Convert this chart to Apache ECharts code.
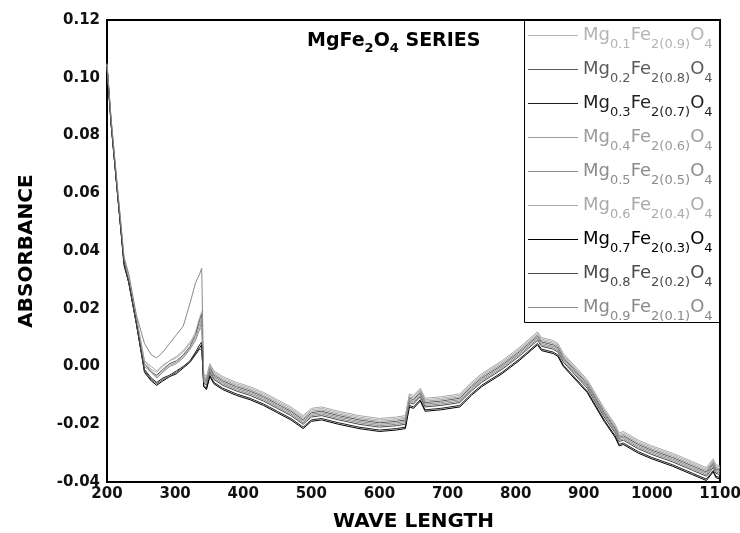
<!DOCTYPE html>
<html>
<head>
<meta charset="utf-8">
<title>MgFe2O4 series absorbance</title>
<script src="https://cdn.jsdelivr.net/npm/echarts@6/dist/echarts.min.js"></script>
<style>
  html, body { margin: 0; padding: 0; background: #fff; }
  #chart { width: 740px; height: 533px; }
</style>
</head>
<body>
<div id="chart"></div>
<script>
(function () {
  'use strict';

  /* ---------- data ---------- */
  const wavelength = [200, 206, 215, 225, 232, 243, 255, 265, 273, 282, 292, 302, 312, 322, 330, 336, 339,
    342, 346, 351, 357, 370, 390, 410, 430, 450, 470, 488, 500, 515, 540, 570, 600, 625, 638,
    644, 650, 660, 667, 690, 718, 735, 750, 780, 805, 832, 838, 855, 862, 870,
    905, 930, 946, 952, 958, 980, 1000, 1030, 1060, 1080, 1090, 1094, 1100];

  const mg01 = [0.1045, 0.085, 0.062, 0.037, 0.031, 0.017, 0.002, -0.001, -0.002, 0.000, 0.002, 0.003, 0.005, 0.008, 0.012, 0.017, 0.019,
    -0.003, -0.004, 0.0005, -0.002, -0.004, -0.006, -0.0075, -0.0095, -0.012, -0.0145, -0.0175, -0.015, -0.0145, -0.016, -0.0175, -0.0185, -0.018, -0.0175,
    -0.010, -0.0105, -0.008, -0.0115, -0.011, -0.010, -0.006, -0.003, 0.0015, 0.006, 0.0115, 0.0095, 0.0085, 0.0075, 0.004,
    -0.005, -0.015, -0.0205, -0.0235, -0.023, -0.026, -0.028, -0.0305, -0.0335, -0.0355, -0.0325, -0.0345, -0.035];
  const mg02 = [0.104, 0.085, 0.061, 0.036, 0.030, 0.016, 0.001, -0.002, -0.003, -0.001, 0.001, 0.002, 0.004, 0.007, 0.011, 0.016, 0.018,
    -0.004, -0.005, -0.0005, -0.003, -0.005, -0.007, -0.0085, -0.0105, -0.013, -0.0155, -0.0185, -0.016, -0.0155, -0.017, -0.0185, -0.0195, -0.019, -0.0185,
    -0.011, -0.0115, -0.009, -0.0125, -0.012, -0.011, -0.007, -0.004, 0.0005, 0.005, 0.0105, 0.0085, 0.0075, 0.0065, 0.003,
    -0.006, -0.016, -0.0215, -0.0245, -0.024, -0.027, -0.029, -0.0315, -0.0345, -0.0365, -0.0335, -0.0355, -0.036];
  const mg03 = [0.104, 0.084, 0.061, 0.036, 0.029, 0.015, -0.001, -0.004, -0.0055, -0.004, -0.003, -0.0015, 0.000, 0.002, 0.005, 0.0075, 0.0085,
    -0.0065, -0.0075, -0.003, -0.0055, -0.0075, -0.0095, -0.011, -0.013, -0.0155, -0.018, -0.021, -0.0185, -0.018, -0.0195, -0.021, -0.022, -0.0215, -0.021,
    -0.0135, -0.014, -0.0115, -0.015, -0.0145, -0.0135, -0.0095, -0.0065, -0.002, 0.0025, 0.008, 0.006, 0.005, 0.004, 0.0005,
    -0.0085, -0.0185, -0.024, -0.027, -0.0265, -0.0295, -0.0315, -0.034, -0.037, -0.039, -0.036, -0.038, -0.0385];
  const mg04 = [0.1045, 0.085, 0.062, 0.037, 0.030, 0.016, 0.001, -0.0015, -0.0035, -0.0015, 0.0005, 0.0015, 0.0035, 0.0065, 0.010, 0.0145, 0.017,
    -0.0035, -0.0045, 0.000, -0.0025, -0.0045, -0.0065, -0.008, -0.010, -0.0125, -0.015, -0.018, -0.0155, -0.015, -0.0165, -0.018, -0.019, -0.0185, -0.018,
    -0.0105, -0.011, -0.0085, -0.012, -0.0115, -0.0105, -0.0065, -0.0035, 0.001, 0.0055, 0.011, 0.009, 0.008, 0.007, 0.0035,
    -0.0055, -0.0155, -0.021, -0.024, -0.0235, -0.0265, -0.0285, -0.031, -0.034, -0.036, -0.033, -0.035, -0.0355];
  const mg05 = [0.104, 0.085, 0.062, 0.036, 0.030, 0.016, 0.000, -0.002, -0.004, -0.002, 0.000, 0.001, 0.003, 0.006, 0.009, 0.013, 0.0155,
    -0.0045, -0.0055, -0.001, -0.0035, -0.0055, -0.0075, -0.009, -0.011, -0.0135, -0.016, -0.019, -0.0165, -0.016, -0.0175, -0.019, -0.020, -0.0195, -0.019,
    -0.0115, -0.012, -0.0095, -0.013, -0.0125, -0.0115, -0.0075, -0.0045, 0.000, 0.0045, 0.010, 0.008, 0.007, 0.006, 0.0025,
    -0.0065, -0.0165, -0.022, -0.025, -0.0245, -0.0275, -0.0295, -0.032, -0.035, -0.037, -0.034, -0.036, -0.0365];
  const mg06 = [0.1045, 0.0855, 0.0625, 0.0375, 0.031, 0.0175, 0.002, 0.000, -0.0015, 0.0005, 0.002, 0.0035, 0.0055, 0.0085, 0.011, 0.0125, 0.014,
    -0.0025, -0.0035, 0.001, -0.0015, -0.0035, -0.0055, -0.007, -0.009, -0.0115, -0.014, -0.017, -0.0145, -0.014, -0.0155, -0.017, -0.018, -0.0175, -0.017,
    -0.0095, -0.010, -0.0075, -0.011, -0.0105, -0.0095, -0.0055, -0.0025, 0.002, 0.0065, 0.012, 0.010, 0.009, 0.008, 0.0045,
    -0.0045, -0.0145, -0.020, -0.023, -0.0225, -0.0255, -0.0275, -0.030, -0.033, -0.035, -0.032, -0.034, -0.0345];
  const mg07 = [0.104, 0.084, 0.061, 0.035, 0.029, 0.015, -0.002, -0.005, -0.0065, -0.005, -0.0035, -0.0025, -0.0005, 0.0015, 0.0045, 0.0065, 0.0075,
    -0.007, -0.008, -0.0035, -0.006, -0.008, -0.010, -0.0115, -0.0135, -0.016, -0.0185, -0.0215, -0.019, -0.0185, -0.020, -0.0215, -0.0225, -0.022, -0.0215,
    -0.014, -0.0145, -0.012, -0.0155, -0.015, -0.014, -0.010, -0.007, -0.0025, 0.002, 0.0075, 0.0055, 0.0045, 0.0035, 0.000,
    -0.009, -0.019, -0.0245, -0.0275, -0.027, -0.030, -0.032, -0.0345, -0.0375, -0.0395, -0.0365, -0.0385, -0.039];
  const mg08 = [0.104, 0.084, 0.061, 0.036, 0.029, 0.015, -0.0015, -0.0045, -0.006, -0.0045, -0.0035, -0.002, 0.000, 0.0015, 0.004, 0.006, 0.006,
    -0.0055, -0.0065, -0.002, -0.0045, -0.0065, -0.0085, -0.010, -0.012, -0.0145, -0.017, -0.020, -0.0175, -0.017, -0.0185, -0.020, -0.021, -0.0205, -0.020,
    -0.0125, -0.013, -0.0105, -0.014, -0.0135, -0.0125, -0.0085, -0.0055, -0.001, 0.0035, 0.009, 0.007, 0.006, 0.005, 0.0015,
    -0.0075, -0.0175, -0.023, -0.026, -0.0255, -0.0285, -0.0305, -0.033, -0.036, -0.038, -0.035, -0.037, -0.0375];
  const mg09 = [0.105, 0.086, 0.063, 0.038, 0.032, 0.018, 0.008, 0.004, 0.003, 0.005, 0.008, 0.011, 0.014, 0.022, 0.029, 0.032, 0.034,
    -0.005, -0.006, -0.0015, -0.004, -0.006, -0.008, -0.0095, -0.0115, -0.014, -0.0165, -0.0195, -0.017, -0.0165, -0.018, -0.0195, -0.0205, -0.020, -0.0195,
    -0.012, -0.0125, -0.010, -0.0135, -0.013, -0.012, -0.008, -0.005, -0.0005, 0.004, 0.0095, 0.0075, 0.0065, 0.0055, 0.002,
    -0.007, -0.017, -0.0225, -0.0255, -0.025, -0.028, -0.030, -0.0325, -0.0355, -0.0375, -0.0345, -0.0365, -0.037];

  const mgPart = ['0.1', '0.2', '0.3', '0.4', '0.5', '0.6', '0.7', '0.8', '0.9'];
  const fePart = ['2(0.9)', '2(0.8)', '2(0.7)', '2(0.6)', '2(0.5)', '2(0.4)', '2(0.3)', '2(0.2)', '2(0.1)'];
  const seriesValues = [mg01, mg02, mg03, mg04, mg05, mg06, mg07, mg08, mg09];
  const seriesColors = ['#b4b4b4', '#5a5a5a', '#1e1e1e', '#9c9c9c', '#8c8c8c', '#aaaaaa', '#000000', '#4a4a4a', '#8a8a8a'];

  /* ---------- build options ---------- */
  const FONT = 'DejaVu Sans';
  const names = mgPart.map(function (m, i) { return 'Mg' + m + 'Fe' + fePart[i] + 'O4'; });

  // subscripts: main tokens are lifted by bottom padding, subscript tokens sit on the line bottom
  const legendRich = {};
  seriesColors.forEach(function (c, i) {
    legendRich['m' + i] = { fontFamily: FONT, fontSize: 18, color: c, lineHeight: 20, verticalAlign: 'bottom', padding: [0, 0, 7, 0] };
    legendRich['s' + i] = { fontFamily: FONT, fontSize: 13, color: c, lineHeight: 14, verticalAlign: 'bottom' };
  });

  const series = seriesValues.map(function (vals, i) {
    return {
      name: names[i],
      type: 'line',
      symbol: 'none',
      color: seriesColors[i],
      lineStyle: { width: 1, color: seriesColors[i] },
      data: wavelength.map(function (w, k) { return [w, vals[k]]; }),
    };
  });

  const axisLabelStyle = { fontFamily: FONT, fontSize: 15, fontWeight: 'bold', color: '#111' };
  const axisNameStyle = { fontFamily: FONT, fontSize: 20, fontWeight: 'bold', color: '#000' };

  const option = {
    animation: false,
    backgroundColor: '#fff',
    title: {
      text: '{b|MgFe}{s|2}{b|O}{s|4}{b| SERIES}',
      left: 307,
      top: 35,
      padding: 0,
      textStyle: {
        rich: {
          b: { fontFamily: FONT, fontSize: 19, fontWeight: 'bold', color: '#000', lineHeight: 20, verticalAlign: 'bottom', padding: [0, 0, 4, 0] },
          s: { fontFamily: FONT, fontSize: 13, fontWeight: 'bold', color: '#000', lineHeight: 14, verticalAlign: 'bottom' },
        },
      },
    },
    grid: {
      left: 107, right: 20, top: 20, bottom: 51,
      show: true, borderColor: '#000', borderWidth: 2,
      outerBoundsMode: 'none',
    },
    legend: {
      orient: 'vertical',
      left: 524,
      top: 20,
      padding: [6, 0, 0, 4],
      // thin line at the top of a 12px box, so it lines up with the raised main text
      icon: 'path://M0,0H50V1H0Z M0,12L0.01,12',
      symbolKeepAspect: false,
      itemWidth: 50,
      itemHeight: 12,
      itemGap: 9,
      selectedMode: false,
      data: names,
      formatter: function (name) {
        const i = names.indexOf(name);
        return '{m' + i + '|Mg}{s' + i + '|' + mgPart[i] + '}{m' + i + '|Fe}{s' + i + '|' + fePart[i] + '}{m' + i + '|O}{s' + i + '|4}';
      },
      textStyle: { rich: legendRich },
    },
    graphic: [{
      type: 'rect',
      shape: { x: 524.5, y: 20.5, width: 196, height: 302 },
      style: { fill: 'none', stroke: '#000', lineWidth: 1 },
      z: 10,
    }],
    xAxis: {
      type: 'value',
      min: 200, max: 1100, interval: 100,
      name: 'WAVE LENGTH',
      nameLocation: 'middle',
      nameGap: 30,
      nameTextStyle: axisNameStyle,
      axisLine: { show: false },
      axisTick: { show: false },
      splitLine: { show: false },
      axisLabel: Object.assign({
        margin: 5,
        formatter: function (v) { return String(v); },
      }, axisLabelStyle),
    },
    yAxis: {
      type: 'value',
      min: -0.04, max: 0.12, interval: 0.02,
      name: 'ABSORBANCE',
      nameLocation: 'middle',
      nameRotate: 90,
      nameGap: 70,
      nameTextStyle: axisNameStyle,
      axisLine: { show: false },
      axisTick: { show: false },
      splitLine: { show: false },
      axisLabel: Object.assign({
        margin: 7,
        formatter: function (v) { return Math.abs(v) < 1e-9 ? '0.00' : v.toFixed(2); },
      }, axisLabelStyle),
    },
    series: series,
  };

  const chart = echarts.init(document.getElementById('chart'), null, { renderer: 'canvas' });
  chart.setOption(option);
})();
</script>
</body>
</html>
